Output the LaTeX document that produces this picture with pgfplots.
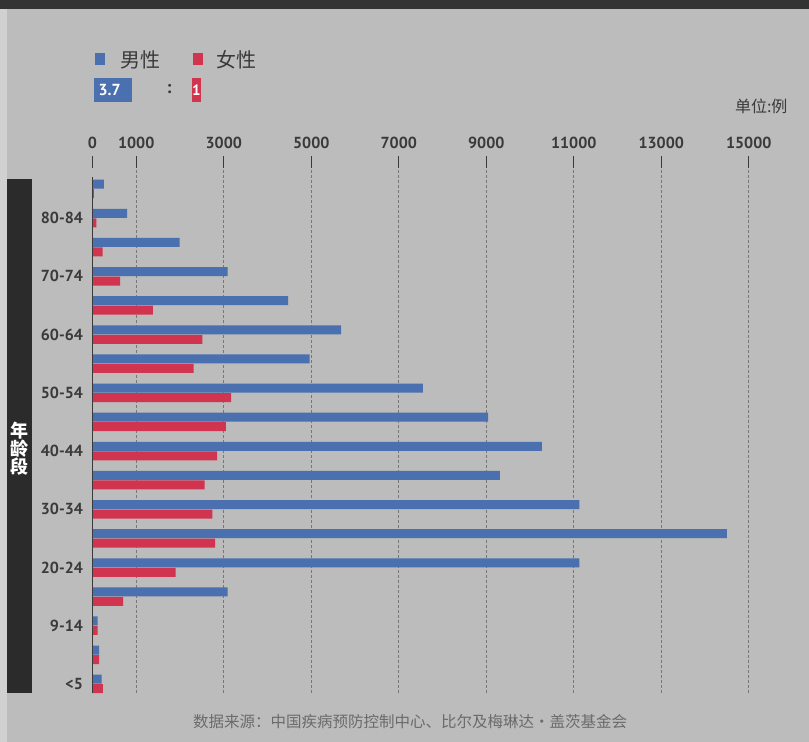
\documentclass[border=0pt]{standalone}
\usepackage{pgfplots}
\pgfplotsset{compat=1.18}
\usepackage{fontspec}
\setmainfont{PT Sans}
\newfontfamily\cjk{Noto Sans CJK SC}

\definecolor{bg}{HTML}{BCBCBC}
\definecolor{topbar}{HTML}{333333}
\definecolor{side}{HTML}{2B2B2B}
\definecolor{male}{HTML}{4A70B0}
\definecolor{female}{HTML}{D1344F}
\definecolor{txt}{HTML}{3A3A3A}
\definecolor{gridc}{HTML}{777777}

% male / female counts, 0 = <5 ... 17 = 85+
\pgfplotstableread{
y male female
0 210 240
1 150 150
2 120 120
3 3090 700
4 11130 1900
5 14500 2800
6 11130 2740
7 9310 2560
8 10270 2850
9 9040 3050
10 7550 3170
11 4960 2310
12 5680 2510
13 4470 1380
14 3090 630
15 1990 230
16 790 90
17 260 30
}\agedata

\begin{document}
\begin{tikzpicture}
% background
\path[use as bounding box, fill=bg] (0pt,0pt) rectangle (809pt,-742pt);
\fill[black!18] (0pt,0pt) rectangle (7pt,-742pt);
\fill[topbar] (0pt,0pt) rectangle (809pt,-9pt);
\fill[side] (7pt,-179pt) rectangle (32pt,-693pt);
\node[text=white, font=\cjk\bfseries\fontsize{18}{18}\selectfont, align=center, inner sep=0pt]
  at (19.5pt,-449pt) {年\\龄\\段};

% legend
\fill[male] (95pt,-53pt) rectangle (105pt,-65pt);
\node[anchor=west, text=txt, font=\cjk\fontsize{20}{20}\selectfont] at (117pt,-60pt) {男性};
\fill[female] (193pt,-53pt) rectangle (203pt,-65pt);
\node[anchor=west, text=txt, font=\cjk\fontsize{20}{20}\selectfont] at (213pt,-60pt) {女性};
\fill[male] (94pt,-78pt) rectangle (132pt,-102pt);
\node[anchor=west, text=white, font=\bfseries\fontsize{16}{16}\selectfont] at (95pt,-90pt) {3.7};
\node[text=txt, font=\bfseries\fontsize{18}{18}\selectfont] at (169pt,-89pt) {:};
\fill[female] (192pt,-78pt) rectangle (201pt,-102pt);
\node[text=white, font=\bfseries\fontsize{15}{15}\selectfont] at (196.5pt,-90pt) {1};
\node[anchor=east, text=txt, font=\cjk\fontsize{16}{16}\selectfont] at (791pt,-106pt) {单位:例};

\begin{axis}[
  at={(92.5pt,-693pt)}, anchor=south west,
  scale only axis, width=700pt, height=525pt,
  xmin=0, xmax=16000, ymin=-0.31, ymax=17.72,
  xbar, bar width=9pt,
  axis line style={draw=none},
  xtick={1000,3000,5000,7000,9000,11000,13000,15000},
  extra x ticks={0},
  extra x tick style={grid=none},
  scaled x ticks=false,
  xtick pos=right, xticklabel pos=right,
  tick align=outside, major tick length=12pt,
  xtick style={draw=txt, line width=0.9pt},
  xmajorgrids,
  grid style={draw=gridc, line width=0.6pt, dash pattern=on 3pt off 2pt},
  xticklabel style={text=txt, font=\bfseries\fontsize{16}{16}\selectfont, yshift=4pt},
  /pgf/number format/assume math mode=true,
  /pgf/number format/1000 sep={},
  ytick={0,2,...,16},
  yticklabels={<5,9-14,20-24,30-34,40-44,50-54,60-64,70-74,80-84},
  ytick style={draw=none},
  yticklabel style={text=txt, font=\bfseries\fontsize{16}{16}\selectfont, anchor=east, xshift=6pt},
  clip=false,
]
\addplot[fill=male, draw=none, bar shift=4.75pt] table[x=male, y=y] {\agedata};
\addplot[fill=female, draw=none, bar shift=-4.75pt] table[x=female, y=y] {\agedata};
\draw[txt, line width=1pt] (axis cs:0,-0.31) -- (axis cs:0,17.4);
\end{axis}

% source
\node[text=black!58, font=\cjk\fontsize{15.5}{15.5}\selectfont] at (410pt,-722pt)
  {数据来源：中国疾病预防控制中心、比尔及梅琳达·盖茨基金会};
\end{tikzpicture}
\end{document}
